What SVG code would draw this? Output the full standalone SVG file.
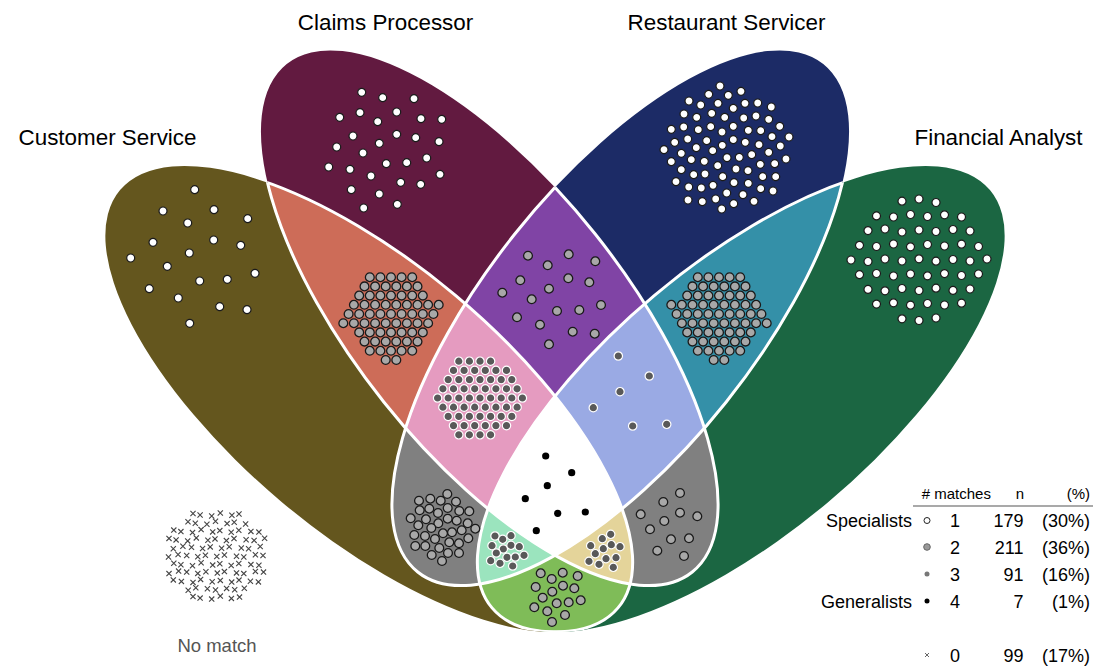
<svg xmlns="http://www.w3.org/2000/svg" width="1094" height="667" viewBox="0 0 1094 667">
<style>
text{font-family:"Liberation Sans",Arial,Helvetica,sans-serif;fill:#000}
.title{font-size:22.4px;text-anchor:middle}
.lg{font-size:18px}
.hd{font-size:15px}
.r{text-anchor:end}
.m{text-anchor:middle}
.pts{fill:none;stroke:none}
.p1{marker-start:url(#m1);marker-mid:url(#m1);marker-end:url(#m1)}
.p2{marker-start:url(#m2);marker-mid:url(#m2);marker-end:url(#m2)}
.p3{marker-start:url(#m3);marker-mid:url(#m3);marker-end:url(#m3)}
.p4{marker-start:url(#m4);marker-mid:url(#m4);marker-end:url(#m4)}
.px{marker-start:url(#mx);marker-mid:url(#mx);marker-end:url(#mx)}
.edge{fill:none;stroke:#fff;stroke-width:3}
</style>
<defs>
<ellipse id="eA" cx="369" cy="399" rx="325" ry="135" transform="rotate(40 369 399)"/>
<ellipse id="eB" cx="489.5" cy="318" rx="325" ry="135" transform="rotate(51.4 489.5 318)"/>
<ellipse id="eC" cx="620.5" cy="318" rx="325" ry="135" transform="rotate(-51.4 620.5 318)"/>
<ellipse id="eD" cx="741" cy="399" rx="325" ry="135" transform="rotate(-40 741 399)"/>
<clipPath id="cA"><use href="#eA"/></clipPath>
<clipPath id="cB"><use href="#eB"/></clipPath>
<clipPath id="cC"><use href="#eC"/></clipPath>
<clipPath id="oA"><use href="#eB"/><use href="#eC"/><use href="#eD"/></clipPath>
<clipPath id="oB"><use href="#eA"/><use href="#eC"/><use href="#eD"/></clipPath>
<clipPath id="oC"><use href="#eA"/><use href="#eB"/><use href="#eD"/></clipPath>
<clipPath id="oD"><use href="#eA"/><use href="#eB"/><use href="#eC"/></clipPath>
<marker id="m1" markerUnits="userSpaceOnUse" markerWidth="10" markerHeight="10" refX="0" refY="0" overflow="visible"><circle r="4" fill="#fff" stroke="#1a1a1a" stroke-width="1.2"/></marker>
<marker id="m2" markerUnits="userSpaceOnUse" markerWidth="10" markerHeight="10" refX="0" refY="0" overflow="visible"><circle r="4.4" fill="#a8a8a8" stroke="#1a1a1a" stroke-width="1.3"/></marker>
<marker id="m3" markerUnits="userSpaceOnUse" markerWidth="10" markerHeight="10" refX="0" refY="0" overflow="visible"><circle r="4.2" fill="#595959" stroke="#fff" stroke-width="1.2"/></marker>
<marker id="m4" markerUnits="userSpaceOnUse" markerWidth="10" markerHeight="10" refX="0" refY="0" overflow="visible"><circle r="3.6" fill="#000"/></marker>
<marker id="mx" markerUnits="userSpaceOnUse" markerWidth="10" markerHeight="10" refX="0" refY="0" overflow="visible"><path d="M-2.6-2.6l5.2 5.2m0-5.2l-5.2 5.2" fill="none" stroke="#444" stroke-width="1.1"/></marker>
</defs>

<g id="labels">
<text class="title" x="385.5" y="30">Claims Processor</text>
<text class="title" x="726.5" y="30">Restaurant Servicer</text>
<text class="title" x="107.5" y="145">Customer Service</text>
<text class="title" x="998.5" y="145">Financial Analyst</text>
</g>

<g id="venn-regions">
<g id="set-customer-service"><use href="#eA" fill="#64561e"/></g>
<g id="set-claims-processor"><use href="#eB" fill="#621a40"/></g>
<g id="set-restaurant-servicer"><use href="#eC" fill="#1c2b66"/></g>
<g id="set-financial-analyst"><use href="#eD" fill="#1b6642"/></g>
<g id="cs-cp" clip-path="url(#cA)"><use href="#eB" fill="#cd6c58"/></g>
<g id="cs-rs" clip-path="url(#cA)"><use href="#eC" fill="#808080"/></g>
<g id="cs-fa" clip-path="url(#cA)"><use href="#eD" fill="#7fbc58"/></g>
<g id="cp-rs" clip-path="url(#cB)"><use href="#eC" fill="#8044a5"/></g>
<g id="cp-fa" clip-path="url(#cB)"><use href="#eD" fill="#808080"/></g>
<g id="rs-fa" clip-path="url(#cC)"><use href="#eD" fill="#3490a8"/></g>
<g id="cs-cp-rs" clip-path="url(#cA)"><g clip-path="url(#cB)"><use href="#eC" fill="#e59bc0"/></g></g>
<g id="cs-cp-fa" clip-path="url(#cA)"><g clip-path="url(#cB)"><use href="#eD" fill="#e4d49a"/></g></g>
<g id="cs-rs-fa" clip-path="url(#cA)"><g clip-path="url(#cC)"><use href="#eD" fill="#9be4be"/></g></g>
<g id="cp-rs-fa" clip-path="url(#cB)"><g clip-path="url(#cC)"><use href="#eD" fill="#9aaae4"/></g></g>
<g id="all-four" clip-path="url(#cA)"><g clip-path="url(#cB)"><g clip-path="url(#cC)"><use href="#eD" fill="#fff"/></g></g></g>
</g>

<g id="region-borders">
<use href="#eA" class="edge" clip-path="url(#oA)"/>
<use href="#eB" class="edge" clip-path="url(#oB)"/>
<use href="#eC" class="edge" clip-path="url(#oC)"/>
<use href="#eD" class="edge" clip-path="url(#oD)"/>
</g>

<g id="dots">
<polyline id="dots-cs" class="pts p1" points="194.7,189.7 163,211 214,209.7 187.7,223 247.7,218.7 153,242.3 213.7,240 189.3,253 240.7,245.3 130.7,258 167.3,266.3 255,273.3 199.7,281 227.3,279.3 149.3,288.7 178.3,298 219.7,306.7 247,309.7 189.7,323.3"/>
<polyline id="dots-cp" class="pts p1" points="361.7,92.3 382.7,97.7 414,98.7 339.7,117.3 360,112.7 377.7,121.7 396.7,112 421,118.7 441.7,119.3 353,136 379.3,143.3 396.7,134.3 415.7,137.7 439,141.7 336.7,147 363,153 386.3,163.7 406.7,162.7 426.7,158 328.7,167 350,169.3 371,176 400.7,182.3 420.7,184.3 440,174.3 351.3,189.7 379.3,194 397.3,204.3 363.7,208"/>
<polyline id="dots-rs" class="pts p1" points="720,86 708.7,94.3 728.3,95.3 741,91.3 689,101 700.7,105 718,103.3 733.3,108.3 745,103.3 757.7,103 771.3,107 684,114 696.7,117.3 711.7,113.3 724.7,117.3 743.7,118 756,116 768.7,119.3 671.3,129.3 683.7,127 698.3,129.7 710.7,126.7 722,132 733.3,126.3 748.3,130.3 760.7,130.7 779.7,126.3 674.7,142.3 687.7,139 706.7,140.7 722.3,145.3 733.3,139.7 745.3,142.3 759,144.7 772,136.7 789,137 664,149.7 681.3,153.3 696.3,147.7 712.7,150.7 727,157.7 739.3,157.3 751.7,154.7 768.7,152.3 780.3,146 671.3,161.7 691.3,159.7 704.3,161.3 717.7,165.7 736,169 748,170.7 760.3,164.3 774.7,163.7 786,159 681.3,169.7 693.7,174.7 705,174 722.7,176.7 734,182.7 748.3,183.3 762.7,176.7 775.7,176.7 676,181.7 688.7,187 701.3,188 713,185.3 726.7,193 743,194.7 760.7,188.7 773,191 688,200 702.3,201.7 715.7,199 733.7,203.7 754,201.3 721.7,209"/>
<polyline id="dots-fa" class="pts p1" points="902,201.2 919,199 936,202.5 876.5,215.9 893.5,217 910.5,214.5 927.5,216.5 944.5,214.8 961.5,217 868,230.6 885,229 902,232 919,230 936,231.5 953,229.5 970,231 859.5,245.3 876.5,246.5 893.5,244 910.5,246.8 927.5,244.5 944.5,246 961.5,244.2 978.5,246.5 851,260 868,261.5 885,259 902,261 919,258.8 936,261.2 953,259.5 970,261 987,259 859.5,274.7 876.5,273.5 893.5,276 910.5,274 927.5,275.8 944.5,273.6 961.5,275.5 978.5,274 868,289.4 885,290.8 902,288.5 919,290.5 936,288.2 953,290.4 970,289 876.5,304.1 893.5,302.8 910.5,305.2 927.5,303.5 944.5,305 961.5,303.2 902,318.8 919,320.5 936,318"/>
<polyline id="dots-cs-cp" class="pts p2" points="369.8,277.2 380.4,277.2 391,277.2 401.6,277.2 412.2,277.2 364.5,286.4 375.1,286.4 385.7,286.4 396.3,286.4 406.9,286.4 417.5,286.4 359.2,295.6 369.8,295.6 380.4,295.6 391,295.6 401.6,295.6 412.2,295.6 422.8,295.6 353.9,304.8 364.5,304.8 375.1,304.8 385.7,304.8 396.3,304.8 406.9,304.8 417.5,304.8 428.1,304.8 438.7,304.8 348.6,314 359.2,314 369.8,314 380.4,314 391,314 401.6,314 412.2,314 422.8,314 433.4,314 343.3,323.2 353.9,323.2 364.5,323.2 375.1,323.2 385.7,323.2 396.3,323.2 406.9,323.2 417.5,323.2 428.1,323.2 359.2,332.4 369.8,332.4 380.4,332.4 391,332.4 401.6,332.4 412.2,332.4 422.8,332.4 364.5,341.6 375.1,341.6 385.7,341.6 396.3,341.6 406.9,341.6 417.5,341.6 369.8,350.8 380.4,350.8 391,350.8 401.6,350.8 412.2,350.8 385.7,360 396.3,360"/>
<polyline id="dots-rs-fa" class="pts p2" points="740.2,277.2 729.6,277.2 719,277.2 708.4,277.2 697.8,277.2 745.5,286.4 734.9,286.4 724.3,286.4 713.7,286.4 703.1,286.4 692.5,286.4 750.8,295.6 740.2,295.6 729.6,295.6 719,295.6 708.4,295.6 697.8,295.6 687.2,295.6 756.1,304.8 745.5,304.8 734.9,304.8 724.3,304.8 713.7,304.8 703.1,304.8 692.5,304.8 681.9,304.8 671.3,304.8 761.4,314 750.8,314 740.2,314 729.6,314 719,314 708.4,314 697.8,314 687.2,314 676.6,314 766.7,323.2 756.1,323.2 745.5,323.2 734.9,323.2 724.3,323.2 713.7,323.2 703.1,323.2 692.5,323.2 681.9,323.2 750.8,332.4 740.2,332.4 729.6,332.4 719,332.4 708.4,332.4 697.8,332.4 687.2,332.4 745.5,341.6 734.9,341.6 724.3,341.6 713.7,341.6 703.1,341.6 692.5,341.6 740.2,350.8 729.6,350.8 719,350.8 708.4,350.8 697.8,350.8 724.3,360 713.7,360"/>
<polyline id="dots-cp-rs" class="pts p2" points="528,255.7 568.7,254.3 595.3,261.3 547.7,265.3 520.3,280.3 568.3,278.3 589.3,282.3 549,288.7 502.3,292.7 531.7,299.3 601,305 557,311 579.3,310 517,317.3 540,324.7 572.7,331.7 594.7,333.7 549,344.3"/>
<polyline id="dots-cs-rs" class="pts p2" points="447.3,494 430.3,498.7 419,500.7 440.7,500.7 456,501.7 419.7,510.3 429.3,508.7 438,513 447.7,508 459.3,511 469.3,511.3 410.7,518.3 426,519.3 438.3,523.3 447.7,518.7 456.7,520.7 467.7,523.3 418.3,525.3 431.3,528 443,533.3 452,532.3 461.7,530.3 475.3,528.7 414.3,535 425,536 435,539 449.3,542.3 459,543.3 468.3,538.3 415.3,546 425.3,546 439.3,548 448,553 459,553 431.7,555 442,561"/>
<polyline id="dots-cp-fa" class="pts p2" points="680,493 663.3,502 640.7,514.3 680,512.7 697.3,516.3 664.3,521 650,529.3 671,539.3 689,538.3 657.3,550.7 684,556"/>
<polyline id="dots-cs-fa" class="pts p2" points="540.7,573.3 551.7,579 562.7,572.7 577.7,576 535.7,587 552.3,591.7 563,585.7 574.3,588.3 542.7,597.7 556.7,603.3 568.7,602.3 580.7,600.3 534.3,607.3 547.3,611.3 565,615 552,622"/>
<polyline id="dots-cs-cp-rs" class="pts p3" points="458.8,361.2 469.4,361.2 480,361.2 490.6,361.2 453.5,370.4 464.1,370.4 474.7,370.4 485.3,370.4 495.9,370.4 506.5,370.4 448.2,379.6 458.8,379.6 469.4,379.6 480,379.6 490.6,379.6 501.2,379.6 511.8,379.6 442.9,388.8 453.5,388.8 464.1,388.8 474.7,388.8 485.3,388.8 495.9,388.8 506.5,388.8 517.1,388.8 437.6,398 448.2,398 458.8,398 469.4,398 480,398 490.6,398 501.2,398 511.8,398 522.4,398 442.9,407.2 453.5,407.2 464.1,407.2 474.7,407.2 485.3,407.2 495.9,407.2 506.5,407.2 517.1,407.2 448.2,416.4 458.8,416.4 469.4,416.4 480,416.4 490.6,416.4 501.2,416.4 511.8,416.4 453.5,425.6 464.1,425.6 474.7,425.6 485.3,425.6 495.9,425.6 506.5,425.6 458.8,434.8 469.4,434.8 480,434.8 490.6,434.8"/>
<polyline id="dots-cp-rs-fa" class="pts p3" points="618.3,356 649.3,376 620,391.7 593.3,407.7 632.7,426 666.7,424.3"/>
<polyline id="dots-cs-rs-fa" class="pts p3" points="495,536 502.7,539.3 511,535.7 492,545.7 503.3,549 511,545.3 519.3,546.7 496.3,553 507,557.3 515.3,557 524,555.3 490.7,560.7 500,563.3 512.7,566"/>
<polyline id="dots-cs-cp-fa" class="pts p3" points="610.7,534.3 602.3,538.7 590.7,545.7 603.3,548.7 611.3,544.7 620,546.7 595.3,553.7 606,558.7 616,557.7 589,561.3 599,564.3 613.3,567.3"/>
<polyline id="dots-all" class="pts p4" points="545.7,456 571.7,472.7 547.3,485.7 525.3,498.7 557.7,513.3 585.3,512 536.3,530.7"/>
<polyline id="no-match" class="pts px" points="193,513.5 200.1,515 211.7,516 220.3,513 231.9,515.3 239,514 188,521.8 195.3,523.3 206.9,524.3 215.5,521.3 227.1,523.6 234.2,522.3 245.6,524 173.8,530.1 180.9,531.6 192.5,532.6 201.1,529.6 212.7,531.9 219.8,530.6 231.2,532.3 238.8,530.3 250.9,531.4 258.9,532.1 169,538.4 176.1,539.9 187.7,540.9 196.3,537.9 207.9,540.2 215,538.9 226.4,540.6 234,538.6 246.1,539.7 254.1,540.4 264.6,538.2 173.3,548.7 182.9,546.2 191.5,547.2 202.6,548.5 210.2,546.9 221.6,548.2 229.2,546.7 241.3,548 248.6,548.7 260.2,546.5 168.5,557 178.1,554.5 186.7,555.5 197.8,556.8 205.4,555.2 216.8,556.5 224.4,555 236.5,556.3 243.8,557 255.4,554.8 263,555.5 173.8,563.3 180.9,564.8 192.5,565.8 201.1,562.8 212.7,565.1 219.8,563.8 231.2,565.5 238.8,563.5 250.9,564.6 258.9,565.3 169,573.6 178.6,571.1 186.7,572.1 197.8,573.4 205.9,571.8 217.3,573.1 224.4,571.6 236.5,572.9 243.8,573.6 255.4,571.4 263.5,572.1 173.3,579.9 181.4,581.4 193,582.4 200.6,579.4 212.2,581.7 220.3,580.4 231.7,582.1 239,580.1 250.4,581.2 258.4,581.9 188.2,590.2 195.8,587.7 207.4,588.7 215.5,590 226.6,588.4 234.7,589.7 244.3,588.2 193,596.6 200.1,598.1 211.7,599.1 220.3,596.1 231.4,598.4 239.5,597.1"/>
</g>
<text x="217" y="652" font-size="18.5" text-anchor="middle" style="fill:#555">No match</text>

<g id="legend">
<text class="hd" x="921.7" y="499"># matches</text>
<text class="hd m" x="1020" y="499">n</text>
<text class="hd r" x="1090" y="499">(%)</text>
<line x1="913" y1="506" x2="1093" y2="506" stroke="#555" stroke-width="1.2"/>
<text class="lg r" x="912" y="527">Specialists</text>
<circle cx="927" cy="520.5" r="3" fill="#fff" stroke="#222" stroke-width="1"/>
<text class="lg m" x="955" y="527">1</text>
<text class="lg r" x="1023.5" y="527">179</text>
<text class="lg r" x="1090" y="527">(30%)</text>
<circle cx="927" cy="547" r="3.3" fill="#999" stroke="#666" stroke-width="1"/>
<text class="lg m" x="955" y="553.5">2</text>
<text class="lg r" x="1023.5" y="553.5">211</text>
<text class="lg r" x="1090" y="553.5">(36%)</text>
<circle cx="927" cy="574" r="2.5" fill="#777"/>
<text class="lg m" x="955" y="580.5">3</text>
<text class="lg r" x="1023.5" y="580.5">91</text>
<text class="lg r" x="1090" y="580.5">(16%)</text>
<text class="lg r" x="912" y="607.5">Generalists</text>
<circle cx="927" cy="601" r="2.5" fill="#000"/>
<text class="lg m" x="955" y="607.5">4</text>
<text class="lg r" x="1023.5" y="607.5">7</text>
<text class="lg r" x="1090" y="607.5">(1%)</text>
<path d="M925 653l4 4m0-4l-4 4" stroke="#666" stroke-width="1" fill="none"/>
<text class="lg m" x="955" y="661.5">0</text>
<text class="lg r" x="1023.5" y="661.5">99</text>
<text class="lg r" x="1090" y="661.5">(17%)</text>
</g>
</svg>
